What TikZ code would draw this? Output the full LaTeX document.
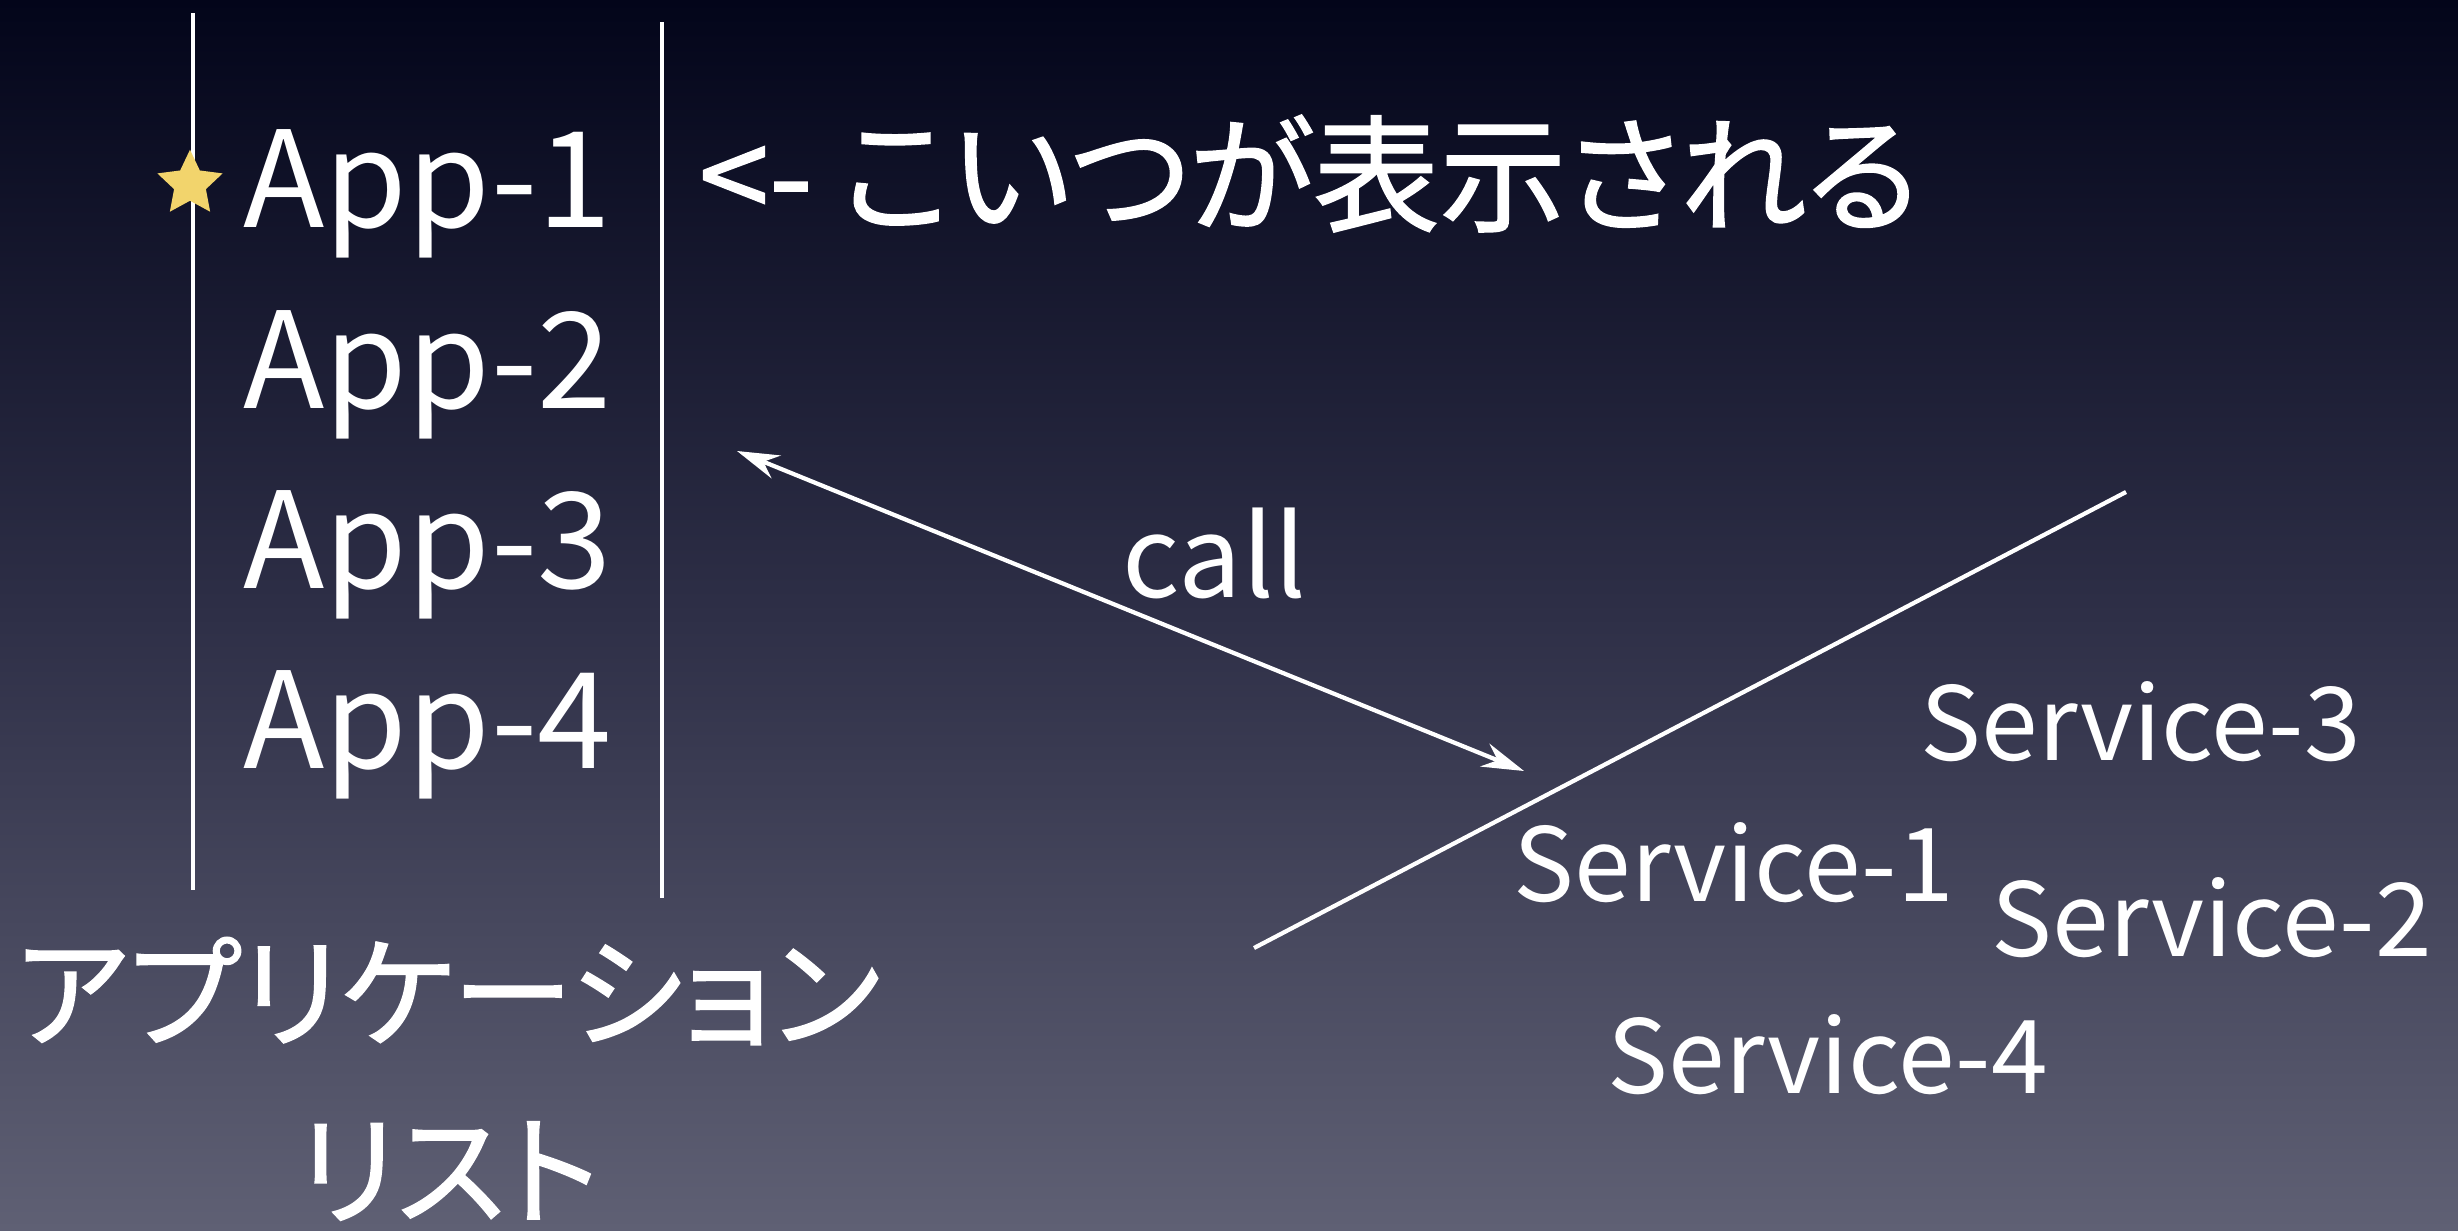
\documentclass[tikz,border=0pt]{standalone}
\usepackage{fontspec}
\setmainfont{Noto Sans CJK JP}[RawFeature=+palt]
\newfontfamily\jpfont{Noto Sans CJK JP}[RawFeature=+palt, FakeBold=1.2]
\usetikzlibrary{shapes.geometric,arrows.meta}
\definecolor{bgtop}{HTML}{03051A}
\definecolor{bgmid}{HTML}{2E2F47}
\definecolor{bgbot}{HTML}{5F6074}
\definecolor{stargold}{HTML}{F2D46C}
\tikzset{
  wline/.style={draw=white, line width=1.2pt},
  apptext/.style={text=white, inner sep=0pt, anchor=base west, font=\fontsize{38}{40}\selectfont},
  svctext/.style={text=white, inner sep=0pt, anchor=base west, font=\fontsize{29}{32}\selectfont},
  jptext/.style={text=white, inner sep=0pt, font=\jpfont\fontsize{36}{38}\selectfont},
  twoway/.style={wline, {Stealth[length=12pt,width=7pt]}-{Stealth[length=12pt,width=7pt]}},
}
\begin{document}
\begin{tikzpicture}[x=0.01cm,y=-0.01cm]
\shade[top color=bgtop, bottom color=bgbot, middle color=bgmid] (0,0) rectangle (2458,1230);
\useasboundingbox (0,0) rectangle (2458,1230);
% list border lines
\coordinate (l1) at (193,13);
\coordinate (l2) at (193,890);
\coordinate (r1) at (662,22);
\coordinate (r2) at (662,898);
\draw[wline] (l1) -- (l2);
\draw[wline] (r1) -- (r2);
% star
\node[star, star points=5, star point ratio=2.05, fill=stargold, minimum size=19.5pt, inner sep=0pt] (star) at (190,184) {};
% apps
\node[apptext] (app1) at (243,227) {App-1};
\node[apptext] (app2) at (243,408) {App-2};
\node[apptext] (app3) at (243,588) {App-3};
\node[apptext] (app4) at (243,768) {App-4};
\node[jptext, anchor=base west] (shown) at (698,222) {<- こいつが表示される};
% list title
\node[jptext, font=\jpfont\fontsize{34.5}{38}\selectfont] (title1) at (448,991) {アプリケーション};
\node[jptext, font=\jpfont\fontsize{34.5}{38}\selectfont] (title2) at (448,1171) {リスト};
% call arrow
\coordinate (ca) at (737,451);
\coordinate (cb) at (1524,771);
\draw[twoway] (ca) -- (cb);
\node[text=white, inner sep=0pt, anchor=base west, font=\fontsize{32}{36}\selectfont] (call) at (1122,597) {call};
% divider line
\coordinate (d1) at (1254,948);
\coordinate (d2) at (2126,492);
\draw[wline] (d1) -- (d2);
% services
\node[svctext] (s3) at (1920,760) {Service-3};
\node[svctext] (s1) at (1513,901) {Service-1};
\node[svctext] (s2) at (1991,956) {Service-2};
\node[svctext] (s4) at (1607,1093) {Service-4};
\end{tikzpicture}
\end{document}
